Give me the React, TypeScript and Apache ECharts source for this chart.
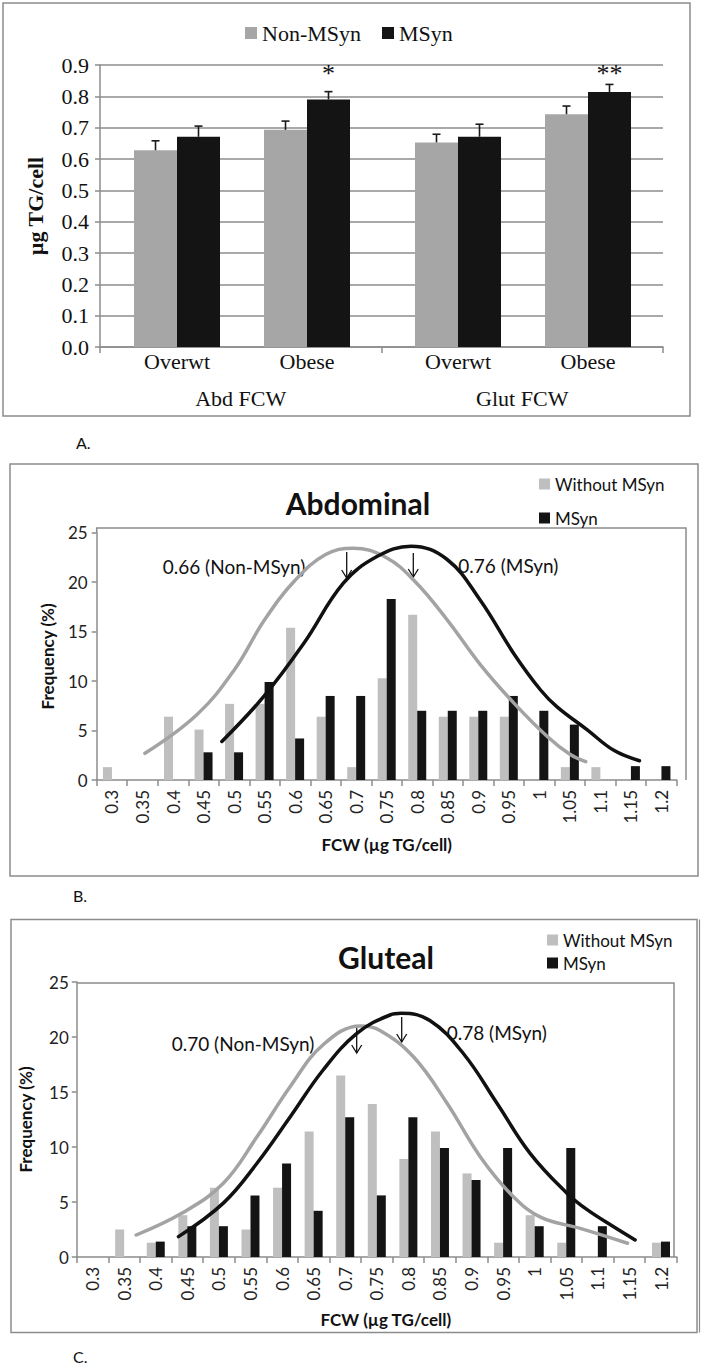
import React, { useEffect, useRef } from 'react';
import * as echarts from 'echarts';

// ---------- Panel A data ----------
const groupCats = ['Abd FCW', 'Glut FCW'];
const bmiCats = ['Overwt', 'Obese'];
// order: Abd Overwt, Abd Obese, Glut Overwt, Glut Obese
const nonMSynMean = [0.628, 0.693, 0.653, 0.743];
const nonMSynErr = [0.03, 0.028, 0.026, 0.026];
const mSynMean = [0.671, 0.79, 0.671, 0.814];
const mSynErr = [0.034, 0.025, 0.04, 0.024];
const sigMarks = ['', '*', '', '**'];

// ---------- Panels B & C data ----------
const fcwCats = ['0.3', '0.35', '0.4', '0.45', '0.5', '0.55', '0.6', '0.65', '0.7', '0.75', '0.8', '0.85', '0.9', '0.95', '1', '1.05', '1.1', '1.15', '1.2'];
const abdWithout = [1.3, 0, 6.4, 5.1, 7.7, 7.7, 15.4, 6.4, 1.3, 10.3, 16.7, 6.4, 6.4, 6.4, 0, 1.3, 1.3, 0, 0];
const abdMSyn = [0, 0, 0, 2.8, 2.8, 9.9, 4.2, 8.5, 8.5, 18.3, 7.0, 7.0, 7.0, 8.5, 7.0, 5.6, 0, 1.4, 1.4];
const glutWithout = [0, 2.5, 1.3, 3.8, 6.3, 2.5, 6.3, 11.4, 16.5, 13.9, 8.9, 11.4, 7.6, 1.3, 3.8, 1.3, 0, 0, 1.3];
const glutMSyn = [0, 0, 1.4, 2.8, 2.8, 5.6, 8.5, 4.2, 12.7, 5.6, 12.7, 9.9, 7.0, 9.9, 2.8, 9.9, 2.8, 0, 1.4];

// fitted distribution curves: [FCW, frequency %]
const abdNonFit = [[0.354, 2.7], [0.439, 6.6], [0.5, 11.1], [0.55, 16.2], [0.6, 20.2], [0.65, 22.8], [0.695, 23.45], [0.749, 22.5], [0.796, 20.1], [0.849, 16.2], [0.903, 11.7], [0.958, 7.8], [1.013, 4.4], [1.05, 2.6], [1.076, 1.85]];
const abdMSynFit = [[0.48, 3.9], [0.548, 8.4], [0.614, 13.8], [0.679, 19.9], [0.734, 22.6], [0.79, 23.65], [0.849, 22.3], [0.903, 18.2], [0.958, 12.8], [1.002, 9.1], [1.029, 7.4], [1.078, 5.1], [1.122, 3.0], [1.164, 1.95]];
const glutNonFit = [[0.369, 2.0], [0.441, 3.97], [0.507, 6.7], [0.56, 10.9], [0.613, 15.5], [0.665, 19.3], [0.724, 21.0], [0.755, 20.6], [0.808, 18.2], [0.861, 14.0], [0.914, 9.1], [0.966, 5.5], [1.01, 3.6], [1.072, 2.6], [1.147, 1.25]];
const glutMSynFit = [[0.436, 1.85], [0.507, 4.9], [0.56, 8.5], [0.613, 12.75], [0.665, 17.0], [0.718, 20.3], [0.771, 22.0], [0.789, 22.15], [0.834, 21.5], [0.887, 18.5], [0.94, 14.0], [0.993, 9.4], [1.051, 5.8], [1.083, 4.3], [1.125, 2.75], [1.159, 1.55]];

const SERIF = '"Liberation Serif", "Times New Roman", serif';
const SANS = 'Lato, "Open Sans", sans-serif';
const AXIS_GRAY = '#8c8c8c';
const TXT = '#111';
const BAR_W_A = 43;
const STAR_LEVEL = 0.872;

function errSeries(axisIdx: number, means: number[], errs: number[], marks: string[], side: number) {
  return {
    type: 'custom',
    xAxisIndex: axisIdx,
    yAxisIndex: axisIdx,
    silent: true,
    z: 5,
    data: means.map((m, i) => [i, m, errs[i]]),
    renderItem: (params: any, api: any) => {
      const i = api.value(0);
      const m = api.value(1);
      const e = api.value(2);
      const base = api.coord([i, m]);
      const top = api.coord([i, m + e]);
      const cx = base[0] + (side * BAR_W_A) / 2;
      const children: any[] = [
        { type: 'line', shape: { x1: cx, y1: base[1], x2: cx, y2: top[1] }, style: { stroke: '#1a1a1a', lineWidth: 1.6 } },
        { type: 'line', shape: { x1: cx - 4, y1: top[1], x2: cx + 4, y2: top[1] }, style: { stroke: '#1a1a1a', lineWidth: 1.6 } },
      ];
      const mark = marks[params.dataIndex];
      if (mark) {
        const p = api.coord([i, STAR_LEVEL]);
        children.push({
          type: 'text',
          x: cx,
          y: p[1],
          style: { text: mark, fontFamily: SERIF, fontSize: 26, fill: TXT, align: 'center', verticalAlign: 'middle' },
        });
      }
      return { type: 'group', children };
    },
  };
}

function arrow(x: number, y1: number, y2: number) {
  return [
    { type: 'line', silent: true, shape: { x1: x, y1, x2: x, y2 }, style: { stroke: TXT, lineWidth: 1.3 } },
    { type: 'polyline', silent: true, shape: { points: [[x - 5, y2 - 8], [x, y2], [x + 5, y2 - 8]] }, style: { stroke: TXT, lineWidth: 1.3, fill: 'none' } },
  ];
}

function label(text: string, x: number, y: number, size: number, weight = 'normal', align = 'left') {
  return {
    type: 'text',
    silent: true,
    x,
    y,
    style: { text, fontFamily: SANS, fontSize: size, fontWeight: weight, fill: TXT, align, verticalAlign: 'middle' },
  };
}

function freqXAxis(gridIndex: number, nameGap: number, namePad: number[]) {
  return {
    gridIndex,
    type: 'category',
    data: fcwCats,
    axisLine: { lineStyle: { color: AXIS_GRAY, width: 1.5 } },
    axisTick: { show: true, length: 6, lineStyle: { color: AXIS_GRAY, width: 1.5 } },
    axisLabel: { interval: 0, rotate: 90, margin: 10, fontFamily: SANS, fontSize: 17, color: '#222' },
    name: 'FCW (µg TG/cell)',
    nameLocation: 'middle',
    nameGap,
    nameTextStyle: { fontFamily: SANS, fontWeight: 'bold', fontSize: 17, color: TXT, padding: namePad },
  };
}

function freqYAxis(gridIndex: number, nameGap: number, margin: number) {
  return {
    gridIndex,
    type: 'value',
    min: 0,
    max: 25,
    interval: 5,
    axisLine: { show: true, lineStyle: { color: AXIS_GRAY, width: 1.5 } },
    axisTick: { show: true, length: 5, lineStyle: { color: AXIS_GRAY, width: 1.5 } },
    splitLine: { show: false },
    axisLabel: { margin, fontFamily: SANS, fontSize: 17, color: '#222' },
    name: 'Frequency (%)',
    nameLocation: 'middle',
    nameGap,
    nameTextStyle: { fontFamily: SANS, fontWeight: 'bold', fontSize: 17, color: TXT },
  };
}

function freqSeries(xCat: number, xVal: number, yIdx: number, without: number[], msyn: number[], nonFit: number[][], msynFit: number[][]) {
  return [
    { type: 'bar', name: 'Without MSyn', xAxisIndex: xCat, yAxisIndex: yIdx, data: without, barWidth: 9, barGap: '0%', itemStyle: { color: '#bfbfbf' } },
    { type: 'bar', name: 'MSyn', xAxisIndex: xCat, yAxisIndex: yIdx, data: msyn, barWidth: 9, barGap: '0%', itemStyle: { color: '#141414' } },
    { type: 'line', name: 'Non-MSyn fit', xAxisIndex: xVal, yAxisIndex: yIdx, data: nonFit, smooth: 0.4, symbol: 'none', z: 4, lineStyle: { color: '#a3a3a3', width: 3.5, cap: 'round' } },
    { type: 'line', name: 'MSyn fit', xAxisIndex: xVal, yAxisIndex: yIdx, data: msynFit, smooth: 0.4, symbol: 'none', z: 4, lineStyle: { color: '#111', width: 3.5, cap: 'round' } },
  ];
}

const option: any = {
  animation: false,
  backgroundColor: '#ffffff',
  grid: [
    { left: 100, top: 65, width: 563, height: 282, outerBoundsMode: 'none' },
    { left: 112, top: 65, width: 260, height: 282, outerBoundsMode: 'none' },
    { left: 393, top: 65, width: 260, height: 282, outerBoundsMode: 'none' },
    { left: 96.7, top: 532.8, width: 580, height: 247.2, outerBoundsMode: 'none' },
    { left: 76.8, top: 982, width: 600, height: 275, outerBoundsMode: 'none' },
  ],
  xAxis: [
    {
      gridIndex: 0,
      type: 'category',
      data: groupCats,
      axisLine: { lineStyle: { color: AXIS_GRAY, width: 1.5 } },
      axisTick: { show: true, length: 6, lineStyle: { color: AXIS_GRAY, width: 1.5 } },
      axisLabel: { margin: 40, fontFamily: SERIF, fontSize: 22, color: TXT },
    },
    { gridIndex: 1, type: 'category', data: bmiCats, axisLine: { show: false }, axisTick: { show: false }, axisLabel: { margin: 3, fontFamily: SERIF, fontSize: 22, color: TXT } },
    { gridIndex: 2, type: 'category', data: bmiCats, axisLine: { show: false }, axisTick: { show: false }, axisLabel: { margin: 3, fontFamily: SERIF, fontSize: 22, color: TXT } },
    freqXAxis(3, 56, [0, 0, 0, 0]),
    { gridIndex: 3, type: 'value', min: 0.275, max: 1.225, show: false },
    freqXAxis(4, 54, [0, 0, 0, 18]),
    { gridIndex: 4, type: 'value', min: 0.275, max: 1.225, show: false },
  ],
  yAxis: [
    {
      gridIndex: 0,
      type: 'value',
      min: 0,
      max: 0.9,
      interval: 0.1,
      axisLine: { show: true, lineStyle: { color: AXIS_GRAY, width: 1.5 } },
      axisTick: { show: true, length: 5, lineStyle: { color: AXIS_GRAY, width: 1.5 } },
      splitLine: { show: true, lineStyle: { color: AXIS_GRAY, width: 1.5 } },
      axisLabel: { margin: 11, fontFamily: SERIF, fontSize: 22, color: TXT, formatter: (v: number) => v.toFixed(1) },
      name: 'µg TG/cell',
      nameLocation: 'middle',
      nameGap: 54,
      nameTextStyle: { fontFamily: SERIF, fontWeight: 'bold', fontSize: 22, color: TXT },
    },
    { gridIndex: 1, type: 'value', min: 0, max: 0.9, show: false },
    { gridIndex: 2, type: 'value', min: 0, max: 0.9, show: false },
    freqYAxis(3, 41, 9),
    freqYAxis(4, 43, 8),
  ],
  legend: [
    {
      data: ['Non-MSyn', 'MSyn'],
      left: 245,
      top: 22,
      padding: 0,
      icon: 'rect',
      itemWidth: 12,
      itemHeight: 12,
      itemGap: 21,
      selectedMode: false,
      textStyle: { fontFamily: SERIF, fontSize: 22, color: TXT },
    },
    {
      data: ['Without MSyn', 'MSyn'],
      orient: 'vertical',
      left: 539,
      top: 475.5,
      padding: 0,
      icon: 'rect',
      itemWidth: 11,
      itemHeight: 11,
      itemGap: 17,
      selectedMode: false,
      textStyle: { fontFamily: SANS, fontSize: 17, color: TXT },
    },
    {
      data: ['Without MSyn', 'MSyn'],
      orient: 'vertical',
      left: 547,
      top: 931.5,
      padding: 0,
      icon: 'rect',
      itemWidth: 11,
      itemHeight: 11,
      itemGap: 6,
      selectedMode: false,
      textStyle: { fontFamily: SANS, fontSize: 17, color: TXT },
    },
  ],
  series: [
    { type: 'bar', name: 'Non-MSyn', xAxisIndex: 1, yAxisIndex: 1, data: nonMSynMean.slice(0, 2), barWidth: BAR_W_A, barGap: '0%', itemStyle: { color: '#a6a6a6' } },
    { type: 'bar', name: 'MSyn', xAxisIndex: 1, yAxisIndex: 1, data: mSynMean.slice(0, 2), barWidth: BAR_W_A, barGap: '0%', itemStyle: { color: '#141414' } },
    { type: 'bar', name: 'Non-MSyn', xAxisIndex: 2, yAxisIndex: 2, data: nonMSynMean.slice(2, 4), barWidth: BAR_W_A, barGap: '0%', itemStyle: { color: '#a6a6a6' } },
    { type: 'bar', name: 'MSyn', xAxisIndex: 2, yAxisIndex: 2, data: mSynMean.slice(2, 4), barWidth: BAR_W_A, barGap: '0%', itemStyle: { color: '#141414' } },
    errSeries(1, nonMSynMean.slice(0, 2), nonMSynErr.slice(0, 2), ['', ''], -1),
    errSeries(1, mSynMean.slice(0, 2), mSynErr.slice(0, 2), sigMarks.slice(0, 2), 1),
    errSeries(2, nonMSynMean.slice(2, 4), nonMSynErr.slice(2, 4), ['', ''], -1),
    errSeries(2, mSynMean.slice(2, 4), mSynErr.slice(2, 4), sigMarks.slice(2, 4), 1),
    ...freqSeries(3, 4, 3, abdWithout, abdMSyn, abdNonFit, abdMSynFit),
    ...freqSeries(5, 6, 4, glutWithout, glutMSyn, glutNonFit, glutMSynFit),
  ],
  graphic: {
    elements: [
      // panel boxes
      { type: 'rect', silent: true, shape: { x: 3, y: 3, width: 687, height: 413 }, style: { fill: 'none', stroke: AXIS_GRAY, lineWidth: 1.5 } },
      { type: 'rect', silent: true, shape: { x: 10, y: 464, width: 688, height: 412 }, style: { fill: 'none', stroke: AXIS_GRAY, lineWidth: 1.5 } },
      { type: 'rect', silent: true, shape: { x: 11, y: 919.5, width: 686, height: 413 }, style: { fill: 'none', stroke: AXIS_GRAY, lineWidth: 1.5 } },
      { type: 'line', silent: true, shape: { x1: 699.5, y1: 919.5, x2: 699.5, y2: 1332.5 }, style: { stroke: AXIS_GRAY, lineWidth: 1.2 } },
      // plot area frames
      { type: 'polyline', silent: true, shape: { points: [[96.7, 532.8], [96.7, 528], [686, 528], [686, 780]] }, style: { fill: 'none', stroke: AXIS_GRAY, lineWidth: 1.5 } },
      { type: 'polyline', silent: true, shape: { points: [[76.8, 983], [674, 983], [674, 1257]] }, style: { fill: 'none', stroke: AXIS_GRAY, lineWidth: 1.5 } },
      // titles & panel letters
      label('Abdominal', 358, 503, 30, 'bold', 'center'),
      label('Gluteal', 386, 957, 30, 'bold', 'center'),
      label('A.', 76, 442, 16),
      label('B.', 73, 895, 16),
      label('C.', 73, 1356, 16),
      // annotations B
      label('0.66 (Non-MSyn)', 162.7, 566, 19),
      label('0.76 (MSyn)', 458.3, 565, 19),
      ...arrow(346.7, 552, 578),
      ...arrow(413.3, 553, 577),
      // annotations C
      label('0.70 (Non-MSyn)', 171.7, 1043, 19),
      label('0.78 (MSyn)', 446.7, 1032, 19),
      ...arrow(356.7, 1027, 1053),
      ...arrow(401.7, 1017, 1042),
    ],
  },
};

export default function App() {
  const ref = useRef<HTMLDivElement>(null);
  useEffect(() => {
    const chart = echarts.init(ref.current as HTMLDivElement, null, { renderer: 'svg' });
    chart.setOption(option);
    return () => chart.dispose();
  }, []);
  return <div ref={ref} style={{ position: 'absolute', left: 0, top: 0, width: 709, height: 1364, background: '#fff' }} />;
}
